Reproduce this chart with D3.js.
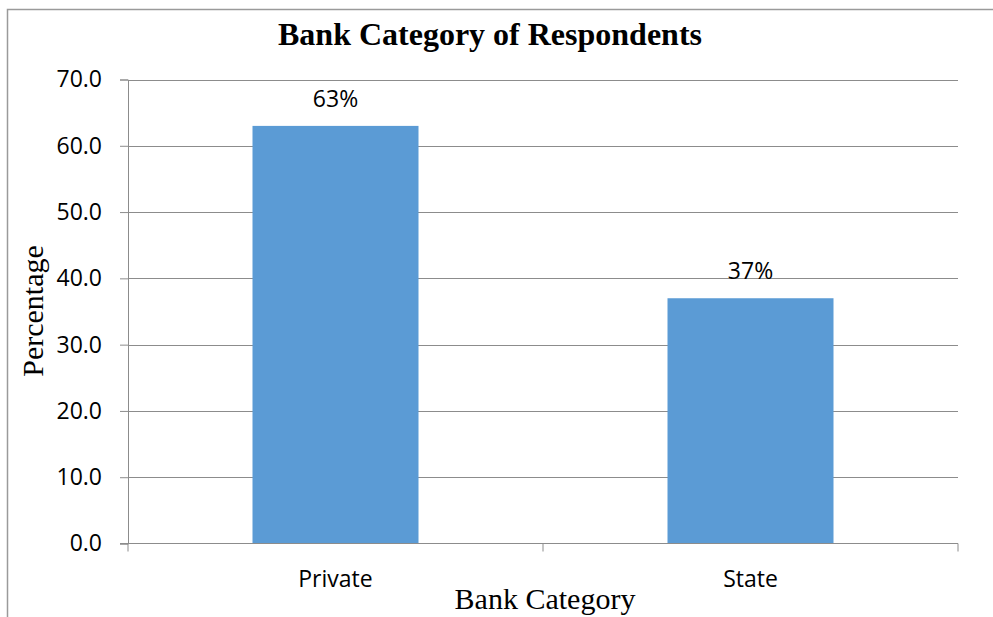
<!DOCTYPE html>
<html lang="en">
<head>
<meta charset="UTF-8">
<title>Bank Category of Respondents</title>
<script src="https://cdn.jsdelivr.net/npm/d3@7"></script>
<style>
  body { margin: 0; background: #fff; }
  svg { display: block; }
</style>
</head>
<body>
<script>
// data
const categories = ["Private", "State"];
const percentages = [63, 37];
const valueLabels = ["63%", "37%"];
const yTicks = [0, 10, 20, 30, 40, 50, 60, 70];

const W = 993, H = 617;
const svg = d3.select("body").append("svg")
    .attr("width", W)
    .attr("height", H);

// outer chart border (runs off the right and bottom of the picture)
svg.append("rect")
    .attr("x", 7.5).attr("y", 9.5)
    .attr("width", 1100).attr("height", 700)
    .attr("fill", "none")
    .attr("stroke", "#9a9a9a")
    .attr("stroke-width", 1.5);

// plot area edges
const plotL = 128, plotR = 958, plotT = 79.5, plotB = 543.5;

const y = d3.scaleLinear().domain([0, 70]).range([plotB, plotT]);
const x = d3.scaleBand().domain(categories).range([plotL, plotR])
    .paddingInner(0.6).paddingOuter(0.3);
// category boundaries for the ticks below the axis
const xb = d3.scaleBand().domain(categories).range([plotL, plotR]);

// gridlines
svg.append("g").selectAll("line")
    .data(yTicks.filter(d => d > 0))
    .join("line")
    .attr("x1", plotL).attr("x2", plotR)
    .attr("y1", d => Math.round(y(d)) + 0.5)
    .attr("y2", d => Math.round(y(d)) + 0.5)
    .attr("stroke", "#8c8c8c")
    .attr("stroke-width", 1);

// bars
svg.append("g").selectAll("rect")
    .data(percentages)
    .join("rect")
    .attr("x", (d, i) => x(categories[i]))
    .attr("width", x.bandwidth())
    .attr("y", d => y(d))
    .attr("height", d => y(0) - y(d))
    .attr("fill", "#5b9bd5");

// y axis
const yAxis = d3.axisLeft(y).tickValues(yTicks).tickSize(8).tickPadding(18)
    .tickFormat(d3.format(".1f"));
const gy = svg.append("g")
    .attr("transform", `translate(${plotL},0)`)
    .call(yAxis);
gy.selectAll("line, path").attr("stroke", "#8c8c8c");
gy.selectAll("text")
    .attr("fill", "#000")
    .style("font-family", "'Open Sans', sans-serif")
    .style("font-size", "23px");

// x axis line and boundary ticks
svg.append("line")
    .attr("x1", plotL - 8).attr("x2", plotR)
    .attr("y1", plotB).attr("y2", plotB)
    .attr("stroke", "#8c8c8c");
const bounds = categories.map(c => xb(c)).concat([plotR]);
svg.append("g").selectAll("line")
    .data(bounds)
    .join("line")
    .attr("x1", d => d).attr("x2", d => d)
    .attr("y1", plotB).attr("y2", plotB + 8)
    .attr("stroke", "#8c8c8c");

// category labels
svg.append("g").selectAll("text")
    .data(categories)
    .join("text")
    .attr("x", d => xb(d) + xb.bandwidth() / 2)
    .attr("y", 587)
    .attr("text-anchor", "middle")
    .style("font-family", "'Open Sans', sans-serif")
    .style("font-size", "23px")
    .text(d => d);

// value labels
svg.append("g").selectAll("text")
    .data(percentages)
    .join("text")
    .attr("x", (d, i) => x(categories[i]) + x.bandwidth() / 2)
    .attr("y", d => y(d) - 19)
    .attr("text-anchor", "middle")
    .style("font-family", "'Open Sans', sans-serif")
    .style("font-size", "23px")
    .text((d, i) => valueLabels[i]);

// title
svg.append("text")
    .attr("x", 490).attr("y", 45)
    .attr("text-anchor", "middle")
    .style("font-family", "'Liberation Serif', 'Times New Roman', serif")
    .style("font-weight", "bold")
    .style("font-size", "32px")
    .text("Bank Category of Respondents");

// axis titles
svg.append("text")
    .attr("transform", "translate(43,311) rotate(-90)")
    .attr("text-anchor", "middle")
    .style("font-family", "'Liberation Serif', 'Times New Roman', serif")
    .style("font-size", "30px")
    .text("Percentage");

svg.append("text")
    .attr("x", 545).attr("y", 609)
    .attr("text-anchor", "middle")
    .style("font-family", "'Liberation Serif', 'Times New Roman', serif")
    .style("font-size", "30px")
    .text("Bank Category");
</script>
</body>
</html>
